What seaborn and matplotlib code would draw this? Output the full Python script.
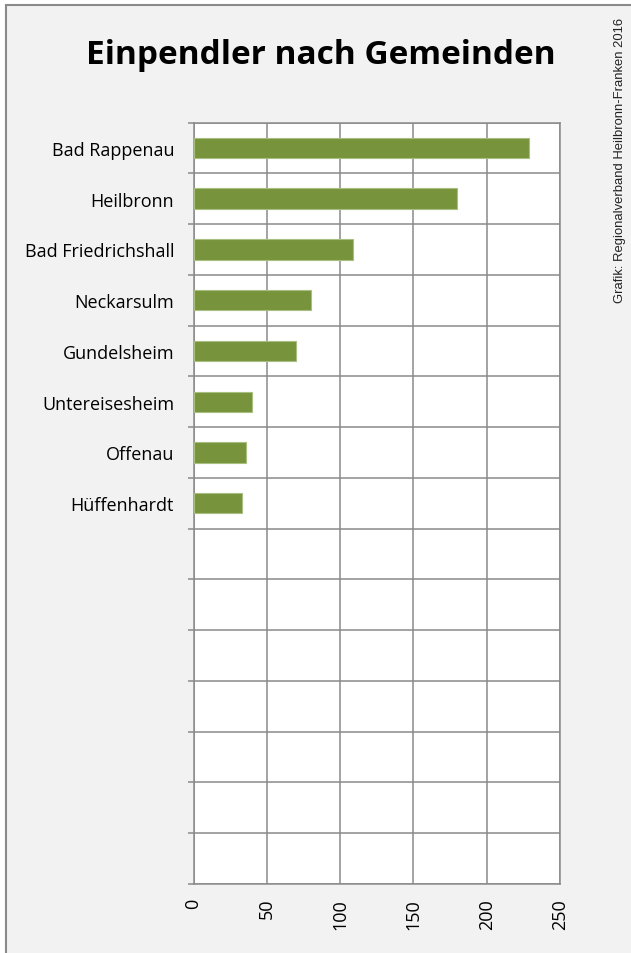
import matplotlib
matplotlib.use("Agg")
import matplotlib.pyplot as plt
from matplotlib.patches import Rectangle
from matplotlib.ticker import FixedLocator
import numpy as np
import pandas as pd
import seaborn as sns

# Werte
gemeinden = ["Bad Rappenau", "Heilbronn", "Bad Friedrichshall", "Neckarsulm",
             "Gundelsheim", "Untereisesheim", "Offenau", "Hüffenhardt"]
einpendler = [229, 180, 109, 80, 70, 40, 36, 33]
n_slots = 15  # Platz fuer 15 Kategorien, nur 8 belegt
x_ticks = [0, 50, 100, 150, 200, 250]

titel = "Einpendler nach Gemeinden"
quelle = "Grafik: Regionalverband Heilbronn-Franken 2016"

df = pd.DataFrame({"Gemeinde": gemeinden, "Einpendler": einpendler})

sns.set_style("white")
plt.rcParams["font.family"] = ["Open Sans", "DejaVu Sans"]

grid_col = "#8a8a8a"
fig = plt.figure(figsize=(6.31, 9.54), dpi=100, facecolor="white")

# grauer Rahmen um das Diagramm (rechts und unten abgeschnitten)
fig.patches.append(Rectangle((6 / 631, -0.02), 1.1, 1 - 6 / 954 + 0.02,
                             transform=fig.transFigure, facecolor="#f2f2f2",
                             edgecolor=grid_col, linewidth=1.5, zorder=-10))

ax = fig.add_axes([193.5 / 631, 1 - 885 / 954, (560 - 193.5) / 631, (885 - 123.5) / 954])
ax.set_facecolor("white")

sns.barplot(data=df, x="Einpendler", y="Gemeinde", ax=ax, orient="h",
            color="#77933c", saturation=1, width=0.4,
            edgecolor="#a9bf80", linewidth=0.8, zorder=3)

ax.set_xlim(0, 250)
ax.set_ylim(n_slots - 0.5, -0.5)
ax.xaxis.set_major_locator(FixedLocator(x_ticks))
ax.yaxis.set_minor_locator(FixedLocator(np.arange(-0.5, n_slots, 1.0)))

ax.grid(True, axis="x", which="major", color=grid_col, linewidth=1.1, zorder=0)
ax.grid(True, axis="y", which="minor", color=grid_col, linewidth=1.1, zorder=0)
ax.set_axisbelow(True)

for s in ax.spines.values():
    s.set_color(grid_col)
    s.set_linewidth(1.1)

ax.tick_params(axis="y", which="major", length=0, pad=14, labelsize=13, colors="black")
ax.tick_params(axis="y", which="minor", length=4.5, width=1.1, color=grid_col, left=True)
ax.tick_params(axis="x", which="major", length=0, pad=10, labelsize=13,
               labelrotation=90, colors="black")
ax.set_xlabel("")
ax.set_ylabel("")

fig.text(0.508, 1 - 56 / 954, titel, ha="center", va="center",
         fontsize=24, fontweight="bold", color="black")
fig.text(620 / 631, 1 - 160 / 954, quelle, rotation=90, ha="center", va="center",
         fontsize=9.4, family=["Liberation Sans", "DejaVu Sans"], color="#222222")

fig.savefig("out.png", dpi=100, facecolor="white")
